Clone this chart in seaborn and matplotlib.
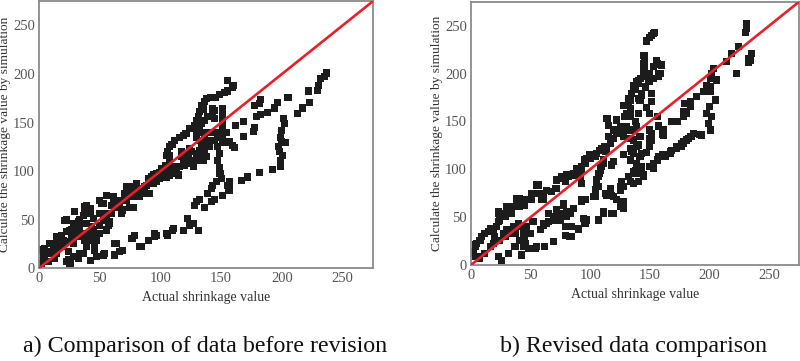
import matplotlib
matplotlib.use("Agg")
import matplotlib.pyplot as plt
import seaborn as sns
import pandas as pd

# ---------------- Panel a (before revision): (actual, simulated) ----------------
a_main = [(2.2,5.1),(3.6,12),(2.2,18.8),(4.9,20.5),(7.7,17),(9,25.7),(11.8,22),(14.5,15.4),(13,10),(17,22),
          (20,25.7),(22.7,27.4),(18.6,34),(22.7,49.7),(25.5,39),(26.8,32.5),(28,29),(31,36),(29.6,42.8),(32.3,48),
          (33.7,42.8),(36.4,36),(37.8,29),(39,22),(36.4,15.4),(32.3,10.3),(24,8.6),(22.7,6.8),(25.5,5),(29.6,12),
          (33.7,15.4),(40.5,29),(42,36),(43,42.8),(39,46),(37.8,56.5),(33.7,49.7),(42,56.5),(44.6,51.4),(37.8,63),
          (39,65),(42,61.6),(44.6,39.4),(46,25.7),(47.4,29),(44.6,32.5),(50,36),(52.8,49.7),(50,56.5),(51.5,66.8),
          (55.6,53),(58.3,48),(57,44.5),(59.7,56.5),(62.4,63),(55.6,75.3),(61,66.8),(63.8,70),(66.5,63),(68,56.5),
          (69,60),(72,70),(73.4,73.6),(70.6,77),(76,73.6),(74.8,63),(77.5,63),(78.9,80.5),(80,84),(83,80.5),
          (85.7,82),(88.4,85.6),(89.8,90.8),(85.7,77),(83,73.6),(91,77),(94,87),(92.5,94),(96.7,89),(99.4,92.5),
          (96.7,97.6),(102,96),(105,94),(94,96),(77.5,84),(76,79),(55.6,39.4),
          (3.5,18.8),(4.9,12),(7.6,6.8),(9,15.4),(11.8,20.5),(14.5,25.7),(18.6,22.2),(20,29),(14.5,32.5),(21.4,49.6),
          (22.8,37.6),(24,17),(25.5,8.5),(28.2,12),(28.2,25.7),(28.2,46),(29.6,58),(26.9,39.4),(32.3,32.5),(33.7,49.6),
          (36.4,54.8),(37.8,63.3),(40.5,60),(41.9,34.2),(46,18.8),(47.4,12),(50.1,44.5),(50.1,70.2),
          (52.8,66.8),(55.6,56.5),(58.3,46.2),(59.7,65),(61,73.6),(68,56.5),(69.3,70.2),(72,83.9),(74.8,80.5),
          (77.5,73.6),(80.3,87.4),(83,75.3),(87.1,83.9),(89.8,92.5),(93.9,94.1),(100.8,102.8),(102.2,97.6),
          (107.6,106),(111.8,97.6),(107.6,116.4)]
a_low = [(63.9,25.7),(66.5,17),(76.2,30.8),(84.4,22.2),(89.8,29),(96.7,34.2),(105,36),(110.4,41),(54.2,15.4),
         (131,39),(124,44.5),(127,46),(122,51),(128,65),(129.5,68.5),(132,71),(136.4,63),(139,77),(142,82),
         (143,85.6),(146.5,89),(142,68.5),(144.6,71),(118.6,39),(110,39),(106,34),(95,32.5),(95,36),(89.8,29),
         (83,22),(78.9,34),(76.7,31),(69,18),(62.4,25.7),(62.4,13.7),(53,13.7),(47.4,12),(42.5,8),(46,19),
         (157,89),(155.5,85.6),(157,80.5),(151,75)]
a_mid = [(106,101),(107.6,96),(110,104.5),(113,101),(116,104.5),(117,115),(120,118),(123,116),(125.5,120),(123,108),
         (127,104.5),(131,111),(132,115),(135,111),(133.6,125),(136.4,121.6),(137.7,128),(140.5,125),(142,132),
         (136.4,135),(129.5,140),(132,145.5),(133.6,149),(136.4,152),(139,156),(143,159),(144.6,154),(143,140),
         (146,140),(147,135),(144.6,132),(147,125),(139,140),(135,140),(151,164),(151,157.5),(151,150.7),(151,144),
         (151,137),(151,130),(143,164),(144.6,162.7),(148.7,118),(147,111),(148.7,104),(149,97.6),(150,92.5),
         (137.7,114.7),(132,121.6),(129.5,118),(126.8,111),(120,106),(118.6,111),(121,115),(117,120),(124,123),
         (132,132),(129.5,135)]
a_hook = [(155,193),(160,188),(159.5,186),(155.5,182.5),(153,181),(148.7,179),(145,176),(141,176),(138,175),
          (136,172),(133.6,168),(135,164),(132,161),(131,156.5),(129.5,152),(128,147),(124,144),(121,139),
          (118.6,137),(116,135),(111.7,132),(109.5,127.7),(107.6,125),(106,120),(105,116),(107.6,111),(104,106),
          (102,103),(99,99),(106,99),(110,97.6),(114.5,96)]
a_right = [(156,80.5),(157,85.6),(167,90),(172,94),(181.5,98.6),(192,102),(199,105),(199,111),(198,120),
           (200.7,116),(197.5,125),(198.5,135),(199.5,142),(202,149),(201.5,154),(203,129.5),(200,130),
           (212.5,159),(217,165),(222.6,171),(222,182.5),(229,183),(230,188),(232,195),(237,201),(235,197),
           (205,176),(196.6,171),(194,165),(188,160),(182,158),(182,174),(181.5,169.5),(177.5,168),(179,156),
           (177.5,144.5),(176.6,141),(168,151),(168,136),(162,146.6),(154,140),(157,130),(159,126.7),(161,124)]

# ---------------- Panel b (revised): (actual, simulated) ----------------
b_upper = [(2,14),(3.4,8.7),(3.4,19),(4.8,22.6),(7.5,26),(7.5,7),(9,29.6),(11.7,12),(14.5,34.8),(16,19),
           (18.7,36.6),(18.7,22.6),(21.5,40),(24,47),(23,55.7),(24,26),(27,54),(27,33),(30,61),(30,36.6),
           (32.7,54),(35.5,61),(38.3,69.6),(41,61),(45,62.7),(46.7,68),(51,68),(52,74.9),(56.5,83.6),(59,68),
           (60.7,74.9),(67.7,76.6),(71.9,80),(71.9,88.8),(76,92.3),(80,94),(85.8,95.7),(88.6,101),(92.8,99),
           (92.8,102.7),(95.6,106),(97,111.4),(101,115),(105.4,116.6),(108,120),(111.6,123.6),
           (22.9,54),(30,61),(34,54),(38.3,64.5),(41,69.7),(44,68),(51,75),(55,83.6),(58,75),(60.7,68),(63.5,78),
           (70.5,80),(76,90.6),(79,87),(81.6,92),(87,94),(91.4,92),(92.9,85.4),(99.8,111.5),(105.4,116.7),
           (112.4,118.4),(118,104.5),(11.7,33),(16,38.3),(20,29.6),(22.9,45),(28.5,50.5),(3.4,21),(7.6,26),
           (2,12),(6,8.7),(99.8,115),(95.6,109.7),(104,113),(109.6,122),(113.8,122),(119.4,108)]
b_lower = [(22.9,8.7),(25.7,5),(31.3,12),(36.9,19),(41,26),(45.3,22.6),(51,17.4),(55,19),(62,19),(69,24.4),
           (43.9,31.3),(46.7,36.6),(58,36.6),(60.7,41.8),(64.8,45),(69,47),(72,55.7),(76,54),(77.4,62.7),
           (80.3,55.7),(84.5,40),(90,38.3),(94.2,48.8),(97,47),(94.2,68),(102.6,71.4),(106.8,47),(111,55.7),
           (118,54),(115,75),(119.4,71.4),(105.4,85.4),(106.8,92),(108.2,99),(111,106),(35.5,40),(32.7,33),
           (39.7,43.6),(28.5,29.6),(32.7,33),(37,33),(41,40),(43.8,33),(45,26),(43.8,19),(42.5,10.4),(48,17.4),
           (49.5,33),(46.7,40),(52,45),(58,36.6),(60.7,43.5),(63.5,43.5),(65,54),(69,50.5),(72,57.5),(74.7,54),
           (77.5,64.4),(80,50.5),(83,54),(85.8,59),(78.9,40),(83,29.6),(74.7,47),(90,36.6),(92.8,68),(95.6,68),
           (95.6,43.5),(104,76.6),(106.8,81.8),(108,95.7),(109.7,102.7),(105.4,88.8),(111,109.7),(114,73),
           (119.4,54),(122,68),(125,61),(127.8,59),(125,78),(127.8,81.8),(133.4,87),(136,95.7),(133.4,109.7),
           (136,116.6),(139,123.6),(108.2,102.7),(106.8,95.8),(105.4,85.4),(104,78.4),(104,71.4),(92.9,66),
           (112.4,75),(116.6,80),(125,81.8),(126.4,87),(132,92.3),(136,97.5),(127.8,66),(118,73),(136,85.4),
           (138.9,102.7),(111,54),(119.4,54),(53.7,17.4),(79,31),(84,29.6),(90,38),(97,47),(107,47)]
b_spike = [(153.5,243),(151.6,240),(150,237.5),(146.8,234),(145.4,219),(145.4,212),(145.4,207),(145.4,202),
           (144.6,197),(140.4,193),(139,191.5),(136,187),(137.7,183),(134.8,179),(133.4,172),(132,167),
           (130.6,158.4),(129,155),(133.4,155),(130.6,144.5),(127.8,139),(122,137.5),(119.4,141),(115,146),
           (114,153),(115,134),(116.6,130.6),(153,242),(147.4,235),(144.6,219),(144.6,210.7),(144.6,203.7),
           (155.8,214),(160,209),(157,200),(153,195),(150,191.5),(141.8,195),(140.4,190),(137.6,183),(143.2,179),
           (132,174),(140.4,174),(151.6,179),(151.6,170.6),(127.8,167),(147.4,165),(133.4,163),(132,155.6),
           (150,158.5),(122.2,151.5),(137.6,149.8),(125,144.5),(130.6,141),(136,141),(127.8,134),(133.4,132.4),
           (119.4,132.4),(116.6,127),(150,141),(150,132.4),(150,127),(157,144.5),(161,136),(168.4,149.8),
           (140.4,125.4),(133.4,122),(127.8,115),(134.8,118.4),(143.2,116.7),(143.2,102.7),(141.8,95.8),
           (144.6,94),(150,102.7),(141.7,134),(136,130.6),(139,144.5),(140.4,158.4),(141.7,172),(143,177),
           (146,186),(148.7,193),(150,200),(153,207),(156,210),(160,209),(158.6,200),(157.2,197),(156,155),
           (157.2,146),(161,141),(161,136),(151.6,137.5),(151.6,130.6),(150,123.6),(147,118),(141.7,113),
           (139,106),(137.7,99),(143,95.7),(144.6,92),(140.4,87)]
b_right = [(153,101),(153,106),(156,109.7),(158.6,113),(162.8,113),(167,116.6),(172.5,122),(176.7,123.6),
           (178,129),(181,130.6),(183.7,134),(186.5,137.5),(192,136),(157,113),(161,115),(167,118.4),(172.5,123.6),
           (176.8,127),(182.3,132.4),(161.3,113),(168.3,120),(172.5,123.6),(178.1,127),(181,130.6),(185.2,134),
           (193.5,135.8),(161.3,135.8),(173,149.8),(170,150),
           (231.3,252.5),(231.3,247),(229.9,243),(235.5,221),(234,214),(224.2,228),(218.7,221),(214.5,212.4),
           (222.9,200),(203.3,205.5),(201.9,200),(206.1,193.3),(200.5,195),(197.7,188),(200.5,186.3),
           (194.9,181),(200.5,181),(204.7,172.4),(189.3,175.9),(183.7,170.6),(183.7,165.4),(178.1,160),
           (178.1,155),(197.7,158.5),(201.9,155),(199,148),(200.5,141),(199.9,165.4),(181,158),(179,169),
           (233,216),(233,212)]

line_vals = [0, 275]
tick_vals = [0, 50, 100, 150, 200, 250]
minor_vals = [25, 75, 125, 175, 225, 275]

captions = ["a) Comparison of data before revision", "b) Revised data comparison"]
xlabel = "Actual shrinkage value"
ylabel = "Calculate the shrinkage value by simulation"

sns.set_theme(style="white")
plt.rcParams['font.family'] = ['Liberation Serif', 'DejaVu Serif']

fig = plt.figure(figsize=(8, 3.61), dpi=100)
ax1 = fig.add_axes([0.04875, 0.2568, 0.4175, 0.740])
ax2 = fig.add_axes([0.58875, 0.266, 0.41, 0.729])

spine_col = "#8a8a8a"
tick_col = "#555555"
panels = [(ax1, a_main + a_low + a_mid + a_hook + a_right),
          (ax2, b_upper + b_lower + b_spike + b_right)]
for ax, pts in panels:
    df = pd.DataFrame(pts, columns=["actual", "simulated"])
    sns.scatterplot(data=df, x="actual", y="simulated", marker="s", s=26, color="#1c1c1c",
                    edgecolor="none", linewidth=0, ax=ax, zorder=2)
    sns.lineplot(x=line_vals, y=line_vals, color="#e8202a", linewidth=1.9, ax=ax, zorder=3)
    ax.set_xlim(0, 275)
    ax.set_ylim(0, 275)
    ax.set_xticks(tick_vals)
    ax.set_yticks(tick_vals)
    ax.set_xticks(minor_vals, minor=True)
    ax.set_yticks(minor_vals, minor=True)
    ax.tick_params(which="major", direction="in", length=4, width=0.8, color=spine_col,
                   labelsize=10.5, labelcolor=tick_col, pad=3)
    ax.tick_params(which="minor", direction="in", length=2, width=0.6, color=spine_col)
    ax.tick_params(top=False, right=False, which="both")
    for sp in ax.spines.values():
        sp.set_color(spine_col)
        sp.set_linewidth(1.3)
    ax.set_xlabel(xlabel, fontsize=10, color="#333333", labelpad=4)
    ax.set_ylabel(ylabel, fontsize=9.6, color="#333333", labelpad=1)

fig.text(0.256, 0.01, captions[0], fontsize=17.3, ha="center", va="bottom", color="#111111")
fig.text(0.792, 0.01, captions[1], fontsize=17.3, ha="center", va="bottom", color="#111111")

fig.savefig("out.png", dpi=100)
